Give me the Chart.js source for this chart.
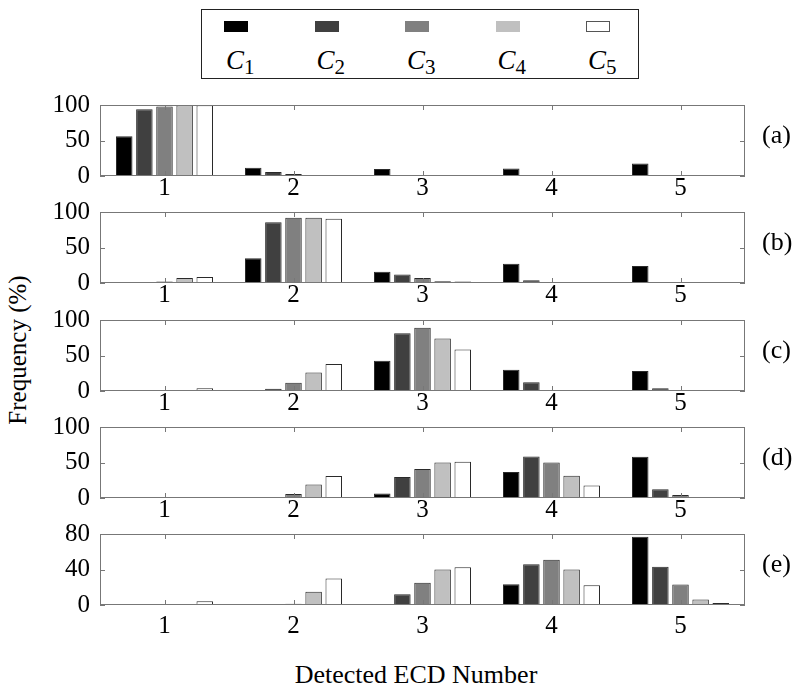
<!DOCTYPE html>
<html>
<head>
<meta charset="utf-8">
<script src="https://cdn.jsdelivr.net/npm/chart.js@4"></script>
<style>
  body { margin: 0; background: #fff; }
  #wrap { position: relative; width: 800px; height: 694px; font-family: 'Liberation Serif', 'Times New Roman', serif; color: #000; }
  canvas { position: absolute; left: 0; }
  .plabel { position: absolute; left: 762px; font-size: 26px; line-height: 26px; }
  #legend { position: absolute; left: 201px; top: 9px; width: 436px; height: 68px; border: 1.5px solid #222; }
  .sw { position: absolute; top: 11px; width: 24px; height: 11px; border: 1px solid #555; box-sizing: border-box; }
  .lt { position: absolute; top: 35px; font-size: 27px; line-height: 30px; white-space: nowrap; }
  .lt i { font-style: italic; }
  .lt sub { font-size: 21px; vertical-align: -5px; }
  #ylab { position: absolute; left: 18px; top: 350px; font-size: 25px; transform: translate(-50%, -50%) rotate(-90deg); white-space: nowrap; }
  #xlab { position: absolute; left: 416px; top: 675px; font-size: 26px; transform: translate(-50%, -50%); white-space: nowrap; }
</style>
</head>
<body>
<div id="wrap">
  <div id="legend"></div>
  <div id="ylab">Frequency (%)</div>
  <div id="xlab">Detected ECD Number</div>
</div>
<script>
// x categories
const ecdNumbers = ['1', '2', '3', '4', '5'];

// series
const seriesNames = ['1', '2', '3', '4', '5']; // subscripts of C
const seriesColors = ['#000000', '#404040', '#808080', '#c0c0c0', '#ffffff'];

// panels
const panelLabels = ['(a)', '(b)', '(c)', '(d)', '(e)'];
const panelMax = [100, 100, 100, 100, 80];
const panelStep = [50, 50, 50, 50, 40];

// frequency (%) per panel, one row per series C1..C5, columns = ECD number 1..5
const panelA = [
  [56, 11.5, 10, 10.5, 17.5],
  [94, 5.8, 1.2, 0, 0],
  [98, 2.9, 0, 0, 0],
  [99.5, 1.2, 0, 0, 0],
  [99.5, 1.2, 0, 0, 0]
];
const panelB = [
  [0, 35, 16, 27, 24],
  [0, 85.5, 12, 4, 0],
  [2, 92, 7, 0, 0],
  [7, 92, 2.4, 0, 0],
  [8.5, 90.5, 2, 0, 0]
];
const panelC = [
  [0, 0, 42.5, 30, 28],
  [0, 3, 81.5, 12.5, 4],
  [0, 11.5, 89, 1.2, 0],
  [0, 26, 74, 0, 0],
  [4, 38, 58.5, 0, 0]
];
const panelD = [
  [0, 0, 6.3, 36.5, 58],
  [0, 0.8, 29.5, 58.5, 12.5],
  [0, 5.8, 41, 50, 4.2],
  [0, 19, 50, 31.5, 0.8],
  [1, 31, 51, 17.5, 0]
];
const panelE = [
  [0, 0, 1, 23.5, 77],
  [0, 0, 12, 46, 43],
  [0, 1.3, 25, 51, 23],
  [0, 15, 40, 40, 6.3],
  [4.3, 30, 42.5, 22.3, 2.3]
];
const panels = [panelA, panelB, panelC, panelD, panelE];

// layout
const panelTops = [95, 202, 310, 417, 524];
const panelH = 81;
const padTop = 15;
const xAxisH = 32;

Chart.defaults.font.family = "'Liberation Serif', 'Times New Roman', serif";
Chart.defaults.color = '#000';

// matlab style box with inward ticks
const boxTicks = {
  id: 'boxTicks',
  afterDraw(chart) {
    const {ctx, chartArea: a, scales: {x, y}} = chart;
    ctx.save();
    ctx.strokeStyle = '#777';
    ctx.lineWidth = 1;
    ctx.strokeRect(Math.round(a.left) + 0.5, Math.round(a.top) + 0.5, Math.round(a.width) - 1, Math.round(a.height) - 1);
    ctx.beginPath();
    x.ticks.forEach((t, i) => {
      const px = Math.round(x.getPixelForTick(i)) + 0.5;
      ctx.moveTo(px, a.top); ctx.lineTo(px, a.top + 5);
      ctx.moveTo(px, a.bottom); ctx.lineTo(px, a.bottom - 5);
    });
    y.ticks.forEach(t => {
      const py = Math.round(y.getPixelForValue(t.value)) + 0.5;
      ctx.moveTo(a.left, py); ctx.lineTo(a.left + 5, py);
      ctx.moveTo(a.right, py); ctx.lineTo(a.right - 5, py);
    });
    ctx.stroke();
    ctx.restore();
  }
};

const wrap = document.getElementById('wrap');

panels.forEach((rows, p) => {
  const cv = document.createElement('canvas');
  cv.width = 800;
  cv.height = padTop + panelH + xAxisH;
  cv.style.top = (panelTops[p] - padTop) + 'px';
  wrap.appendChild(cv);

  const lab = document.createElement('div');
  lab.className = 'plabel';
  lab.textContent = panelLabels[p];
  lab.style.top = (panelTops[p] + panelH / 2 - 14) + 'px';
  wrap.appendChild(lab);

  new Chart(cv, {
    type: 'bar',
    data: {
      labels: ecdNumbers,
      datasets: rows.map((vals, s) => ({
        label: 'C' + seriesNames[s],
        data: vals,
        backgroundColor: seriesColors[s],
        borderColor: '#2a2a2a',
        borderWidth: 1,
        borderSkipped: false,
        categoryPercentage: 0.78,
        barPercentage: 0.82
      }))
    },
    options: {
      responsive: false,
      animation: false,
      devicePixelRatio: 1,
      layout: { padding: { top: padTop, right: 55, left: 0, bottom: 0 } },
      plugins: { legend: { display: false }, tooltip: { enabled: false } },
      scales: {
        x: {
          grid: { display: false, drawTicks: false },
          border: { display: false },
          ticks: { font: { size: 25 }, padding: p === 4 ? 6 : -3, maxRotation: 0 },
          afterFit: s => { s.height = xAxisH; }
        },
        y: {
          min: 0,
          max: panelMax[p],
          grid: { display: false, drawTicks: false },
          border: { display: false },
          ticks: { stepSize: panelStep[p], font: { size: 25 }, padding: 10 },
          afterFit: s => { s.width = 100; }
        }
      }
    },
    plugins: [boxTicks]
  });
});

// legend
const legend = document.getElementById('legend');
seriesNames.forEach((n, s) => {
  const x = 22 + s * 90.5;
  const sw = document.createElement('div');
  sw.className = 'sw';
  sw.style.left = x + 'px';
  sw.style.background = seriesColors[s];
  sw.style.borderColor = s === 4 ? '#555' : seriesColors[s];
  legend.appendChild(sw);
  const t = document.createElement('div');
  t.className = 'lt';
  t.style.left = (x + 2) + 'px';
  t.innerHTML = '<i>C</i><sub>' + n + '</sub>';
  legend.appendChild(t);
});
</script>
</body>
</html>
